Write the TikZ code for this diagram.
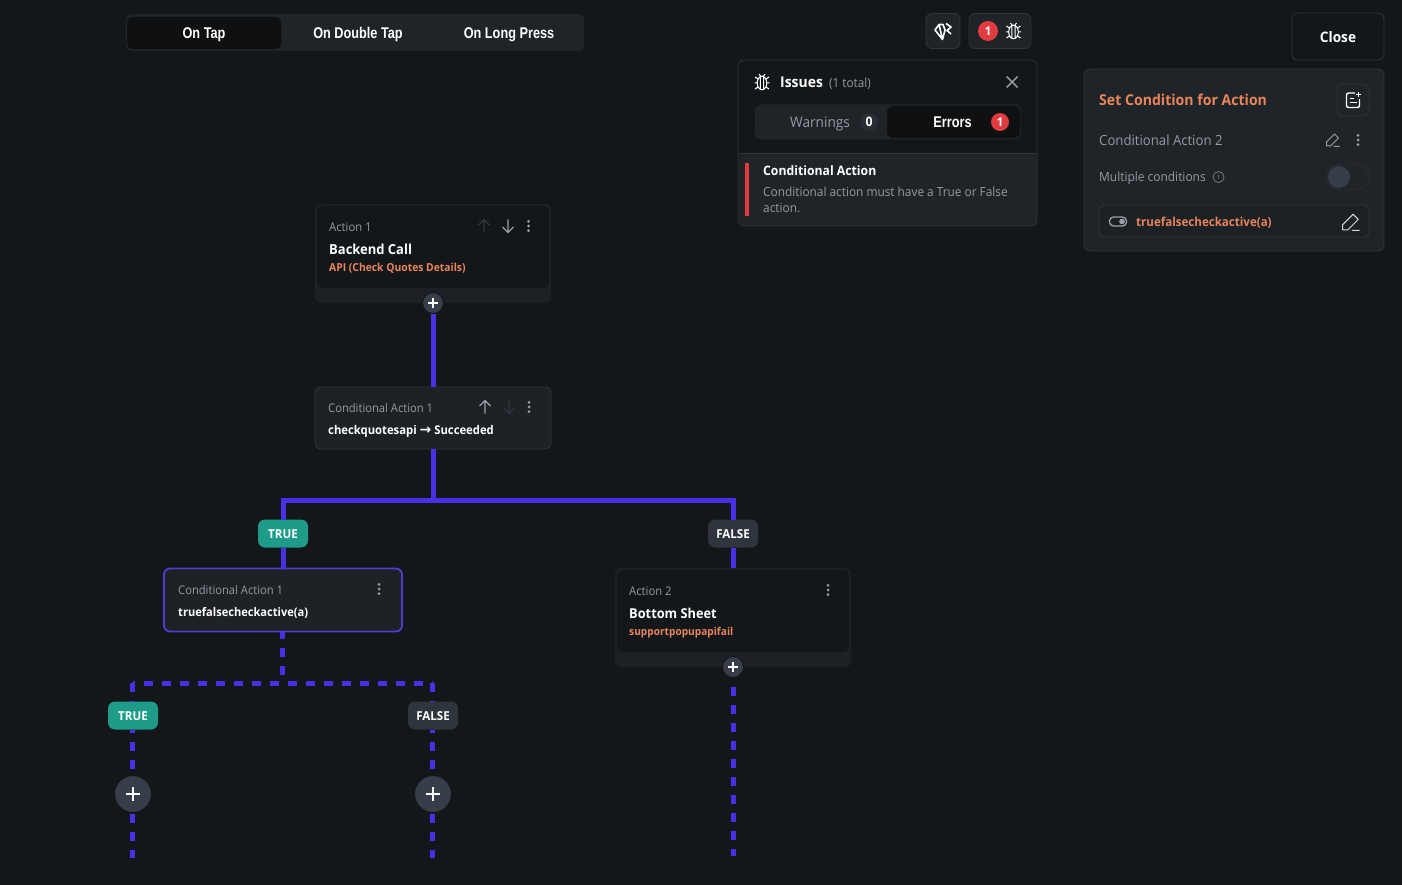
\documentclass[tikz,border=0pt]{standalone}
\usepackage{fontspec}
\setmainfont[FakeStretch=0.94]{Open Sans}
\newfontfamily\tabfont[FakeStretch=0.82]{Liberation Sans}
\newfontfamily\symfont{DejaVu Sans}
\tikzset{>=stealth}
\usetikzlibrary{calc}
\definecolor{pagebg}{HTML}{13171A}
\definecolor{barbg}{HTML}{1F2429}
\definecolor{darkbg}{HTML}{0E1012}
\definecolor{edgegray}{HTML}{30363C}
\definecolor{cardbg}{HTML}{1E2227}
\definecolor{greytext}{HTML}{959BA1}
\definecolor{orangetext}{HTML}{E9845B}
\definecolor{flowblue}{HTML}{4B2FE6}
\definecolor{selectblue}{HTML}{4A3FD0}
\definecolor{tealtag}{HTML}{1F9B8A}
\definecolor{slatetag}{HTML}{2E353D}
\definecolor{addgray}{HTML}{383E49}
\definecolor{redbadge}{HTML}{E23B3F}
\definecolor{icongray}{HTML}{9AA0A6}
\tikzset{
  box/.style={rounded corners=6pt, inner sep=0pt, outer sep=0pt},
  panel/.style={box, draw=edgegray, fill=barbg, line width=0.8pt},
  txt/.style={anchor=west, inner sep=0pt, text=#1, text height=10pt, text depth=0pt},
  txt/.default=white,
  size/.style={font=\fontsize{#1}{#1}\selectfont},
  bsize/.style={font=\fontsize{#1}{#1}\selectfont\bfseries},
  tabtxt/.style={text=white, inner sep=0pt, text height=11pt, text depth=0pt,
    font=\fontsize{15.5}{15.5}\selectfont\tabfont\bfseries},
  tagbox/.style={box, rounded corners=7pt, minimum width=50pt, minimum height=28pt,
    fill=#1, text=white, text height=10pt, text depth=0pt, font=\fontsize{12.3}{12.3}\selectfont\bfseries},
  addbtn/.style={circle, fill=addgray, draw=pagebg, line width=1pt, inner sep=0pt,
    minimum size=#1, outer sep=0pt},
  badge/.style={circle, fill=redbadge, text=white, inner sep=0pt, minimum size=#1,
    font=\fontsize{12}{12}\selectfont\bfseries},
  flow/.style={flowblue, line width=5pt},
  flowdash/.style={flowblue, line width=5pt, dash pattern=on 9pt off 9pt},
}
% small icons, drawn around a given point
\newcommand{\kebab}[2]{\foreach \dy in {-4.7,0,4.7} \fill[#2] (#1)++(0,\dy) circle (1.5pt);}
\newcommand{\arrowup}[2]{\draw[#2, line width=1.2pt] (#1)++(0,6.5) -- ++(0,-13) ++(-5.5,5.5) -- ++(5.5,-5.5) -- ++(5.5,5.5);}
\newcommand{\arrowdown}[2]{\draw[#2, line width=1.2pt] (#1)++(0,-6.5) -- ++(0,13) ++(-5.5,-5.5) -- ++(5.5,5.5) -- ++(5.5,-5.5);}
\newcommand{\plusicon}[2]{\draw[white, line width=#2] (#1)++(-#2*3.5,0) -- ++(#2*7,0) (#1)++(0,-#2*3.5) -- ++(0,#2*7);}
\newcommand{\bugicon}[1]{\draw[white, line width=1pt] (#1) ellipse (4.8pt and 6.8pt)
  (#1)++(-1.6,-6.5) -- ++(0,13) (#1)++(1.6,-6.5) -- ++(0,13) (#1)++(-7.5,0) -- ++(3,0) (#1)++(7.5,0) -- ++(-3,0)
  (#1)++(-7,-6) -- ++(3,2) (#1)++(7,-6) -- ++(-3,2) (#1)++(-7,6) -- ++(3,-2) (#1)++(7,6) -- ++(-3,-2)
  (#1)++(-3,-9) -- ++(1.5,2) (#1)++(3,-9) -- ++(-1.5,2);}
\newcommand{\pencil}[3]{\begin{scope}[shift={(#1)}, scale=#3]
  \draw[#2, line width=1pt, line join=round] (-6,6) -- (-6,2) -- (2,-6) -- (6,-2) -- (-2,6) -- cycle (1,6.5) -- (7,6.5);
  \end{scope}}
\begin{document}
\begin{tikzpicture}[x=1pt, y=-1pt]
    \useasboundingbox (0,0) rectangle (1402,885);
    \fill[pagebg] (0,0) rectangle (1402,885);
    % tabs
    \node[box, fill=barbg, minimum width=458pt, minimum height=37pt] (tabbar) at (355,32.5) {};
    \node[box, fill=darkbg, minimum width=154pt, minimum height=32pt] (tabtap) at (204,33) {};
    \node[tabtxt] (taptext) at (204,33) {On Tap};
    \node[tabtxt] (doubletext) at (358,33) {On Double Tap};
    \node[tabtxt] (longtext) at (509,33) {On Long Press};
    % top buttons
    \node[panel, minimum width=34pt, minimum height=35pt] (gembtn) at (943,31) {};
    \draw[white, line width=1.6pt, line join=round] (935,30) -- (939,24.5) -- (943,24.5) -- (945,30) -- (942.5,39.5) -- cycle (939,24.5) -- (942.5,39.5) (946,23.5) -- (951,27) -- (947,30.5) -- (951,34);
    \node[panel, minimum width=62pt, minimum height=35pt] (bugbtn) at (1000,31) {};
    \node[badge=20pt] (bugbadge) at (988,31) {1};
    \bugicon{1013.5,32}
    \node[box, draw=edgegray, fill=pagebg, line width=0.8pt, minimum width=92pt, minimum height=47pt,
      text=white, text height=11.5pt, text depth=0pt, bsize=14.5] (closebtn) at (1338,36.5) {Close};
    % issues panel
    \node[box, fill=pagebg, minimum width=299pt, minimum height=166pt] (issues) at (887.5,143) {};
    \fill[barbg, rounded corners=6pt] (739,153) -- (1037,153) -- (1037,226) -- (739,226) -- cycle;
    \draw[edgegray, line width=0.8pt] (738.5,153) -- (1037,153);
    \draw[edgegray, line width=0.8pt, rounded corners=6pt] (738,60) rectangle (1037,226);
    \bugicon{762,83}
    \node[txt, bsize=14.8] (issuestitle) at (780,82.5) {Issues};
    \node[txt=greytext, size=12.5] (issuestotal) at (829,82.5) {(1 total)};
    \draw[icongray, line width=1.4pt] (1006.5,76.5) -- (1017.5,87.5) (1006.5,87.5) -- (1017.5,76.5);
    \node[box, fill=barbg, minimum width=266pt, minimum height=35pt] (issuetabs) at (888,122) {};
    \node[box, fill=darkbg, minimum width=133pt, minimum height=32pt] (errortab) at (953.5,122) {};
    \node[txt=greytext, size=14.5] (warntext) at (790,122.5) {Warnings};
    \node[circle, fill=edgegray!55!barbg, text=white, inner sep=0pt, minimum size=18pt, bsize=13] (warncount) at (869,122) {0};
    \node[tabtxt] (errortext) at (952.5,122) {Errors};
    \node[badge=18pt] (errorbadge) at (1000,122) {1};
    \fill[redbadge] (745,163) rectangle (748.5,216);
    \node[txt, bsize=13] (issuehead) at (763,170.5) {Conditional Action};
    \node[txt=greytext, size=12.6] (issueline1) at (763,191.5) {Conditional action must have a True or False};
    \node[txt=greytext, size=12.6] (issueline2) at (763,207.5) {action.};
    % condition panel
    \node[panel, minimum width=300pt, minimum height=182pt] (condpanel) at (1234,160) {};
    \node[txt=orangetext, bsize=15] (condtitle) at (1099,101) {Set Condition for Action};
    \node[box, draw=edgegray, fill=barbg, line width=0.8pt, minimum width=32pt, minimum height=32pt] (notebtn) at (1353,100) {};
    \draw[white, line width=1.4pt, rounded corners=2pt] (1355,93) -- (1346.5,93) -- (1346.5,107.5) -- (1359.5,107.5) -- (1359.5,99);
    \draw[white, line width=1.2pt] (1349.5,98.5) -- (1354,98.5) (1349.5,102.5) -- (1356.5,102.5) (1358.5,92) -- (1358.5,97) (1356,94.5) -- (1361,94.5);
    \node[txt=greytext, size=14] (condname) at (1099,140.5) {Conditional Action 2};
    \pencil{1332.5,140}{icongray}{1}
    \kebab{1358,140}{icongray}
    \node[txt=greytext, size=12.7] (multitext) at (1099,176.5) {Multiple conditions};
    \draw[icongray!70!pagebg, line width=0.8pt] (1218.5,177) circle (5.5pt);
    \node[text=icongray!70!pagebg, inner sep=0pt, font=\fontsize{8}{8}\selectfont] (infotext) at (1218.5,177) {i};
    \node[box, rounded corners=12pt, draw=edgegray, fill=barbg, minimum width=42pt, minimum height=25pt] (switchbg) at (1348,177) {};
    \fill[addgray] (1339,177) circle (11pt);
    \node[box, draw=edgegray, fill=barbg!75!pagebg, line width=0.8pt, minimum width=270pt, minimum height=32pt] (exprbox) at (1234,221) {};
    \draw[icongray, line width=1.3pt, rounded corners=4pt] (1109.5,217) rectangle (1126.5,226);
    \fill[icongray] (1122,221.5) circle (2.8pt);
    \node[txt=orangetext, bsize=12.3] (exprtext) at (1136,221.5) {truefalsecheckactive(a)};
    \pencil{1350.5,222}{icongray!40!white}{1.3}
    % action 1
    \node[box, fill=barbg!80!pagebg, minimum width=236pt, minimum height=99pt] (action1) at (433,253.5) {};
    \node[box, fill=pagebg, minimum width=232pt, minimum height=82pt] (action1top) at (433,247) {};
    \node[txt=greytext, size=12] (action1name) at (329,226.5) {Action 1};
    \arrowup{484,226}{edgegray}
    \arrowdown{508,226}{icongray}
    \kebab{528.5,226}{icongray}
    \node[txt, bsize=13.8] (action1title) at (329,249.5) {Backend Call};
    \node[txt=orangetext, bsize=11] (action1sub) at (329,266.5) {API (Check Quotes Details)};
    \node[addbtn=21pt] (add1) at (433,303) {};
    \plusicon{433,303}{1.5pt}
    % conditional action 1
    \node[panel, fill=cardbg, minimum width=236pt, minimum height=62pt] (cond1) at (433,418) {};
    \node[txt=greytext, size=11.9] (cond1name) at (328,407.5) {Conditional Action 1};
    \arrowup{485,407}{icongray}
    \arrowdown{509,407}{edgegray}
    \kebab{529,407}{icongray}
    \node[txt, bsize=12] (cond1expr) at (328,429) {checkquotesapi {\symfont\fontsize{14}{14}\selectfont\bfseries →} Succeeded};
    \draw[flow] (add1) -- (cond1);
    % branches
    \coordinate (hub1) at (433,500);
    \node[tagbox=tealtag] (true1) at (283,533.5) {TRUE};
    \node[tagbox=slatetag] (false1) at (733,533.5) {FALSE};
    \node[box, draw=selectblue, fill=cardbg, line width=1.8pt, minimum width=238pt, minimum height=63pt] (cond2) at (283,600) {};
    \node[txt=greytext, size=11.9] (cond2name) at (178,589.5) {Conditional Action 1};
    \kebab{379,589}{icongray}
    \node[txt, bsize=11.8] (cond2expr) at (178,611) {truefalsecheckactive(a)};
    \node[box, fill=barbg!80!pagebg, minimum width=236pt, minimum height=99pt] (action2) at (733,617.5) {};
    \node[box, fill=pagebg, minimum width=232pt, minimum height=82pt] (action2top) at (733,611) {};
    \node[txt=greytext, size=12] (action2name) at (629,590.5) {Action 2};
    \kebab{828,590}{icongray}
    \node[txt, bsize=13.6] (action2title) at (629,613.5) {Bottom Sheet};
    \node[txt=orangetext, bsize=10.8] (action2sub) at (629,630) {supportpopupapifail};
    \node[addbtn=21pt] (add2) at (733,667) {};
    \plusicon{733,667}{1.5pt}
    \draw[flow] (cond1) -- (hub1);
    \draw[flow, line join=miter] (true1) -- (true1 |- hub1) -- (false1 |- hub1) -- (false1);
    \draw[flow] (true1) -- (cond2);
    \draw[flow] (false1) -- (action2.north);
    % dashed part
    \coordinate (hub2) at (282.5,683);
    \coordinate (left2) at (132.5,683);
    \coordinate (right2) at (432.5,683);
    \coordinate (end1) at (132.5,858);
    \coordinate (end2) at (432.5,858);
    \coordinate (end3) at (733,856);
    \node[tagbox=tealtag] (true2) at (133,715.5) {TRUE};
    \node[tagbox=slatetag] (false2) at (433,715.5) {FALSE};
    \node[addbtn=37pt] (add3) at (133,794) {};
    \node[addbtn=37pt] (add4) at (433,794) {};
    \plusicon{133,794}{2pt}
    \plusicon{433,794}{2pt}
    \draw[flowdash, dash phase=1.5pt] (cond2.south -| hub2) -- (hub2);
    \draw[flowdash, dash phase=7pt] (left2) -- (right2);
    \draw[flowdash] (left2) -- (left2 |- true2.north);
    \draw[flowdash] (right2) -- (right2 |- false2.north);
    \draw[flowdash, dash phase=5.5pt] (left2 |- true2.south) -- (left2 |- add3.north);
    \draw[flowdash, dash phase=5.5pt] (right2 |- false2.south) -- (right2 |- add4.north);
    \draw[flowdash, dash phase=16.5pt] (left2 |- add3.south) -- (end1);
    \draw[flowdash, dash phase=16.5pt] (right2 |- add4.south) -- (end2);
    \draw[flowdash, dash phase=9pt] (add2) -- (end3);
\end{tikzpicture}
\end{document}
